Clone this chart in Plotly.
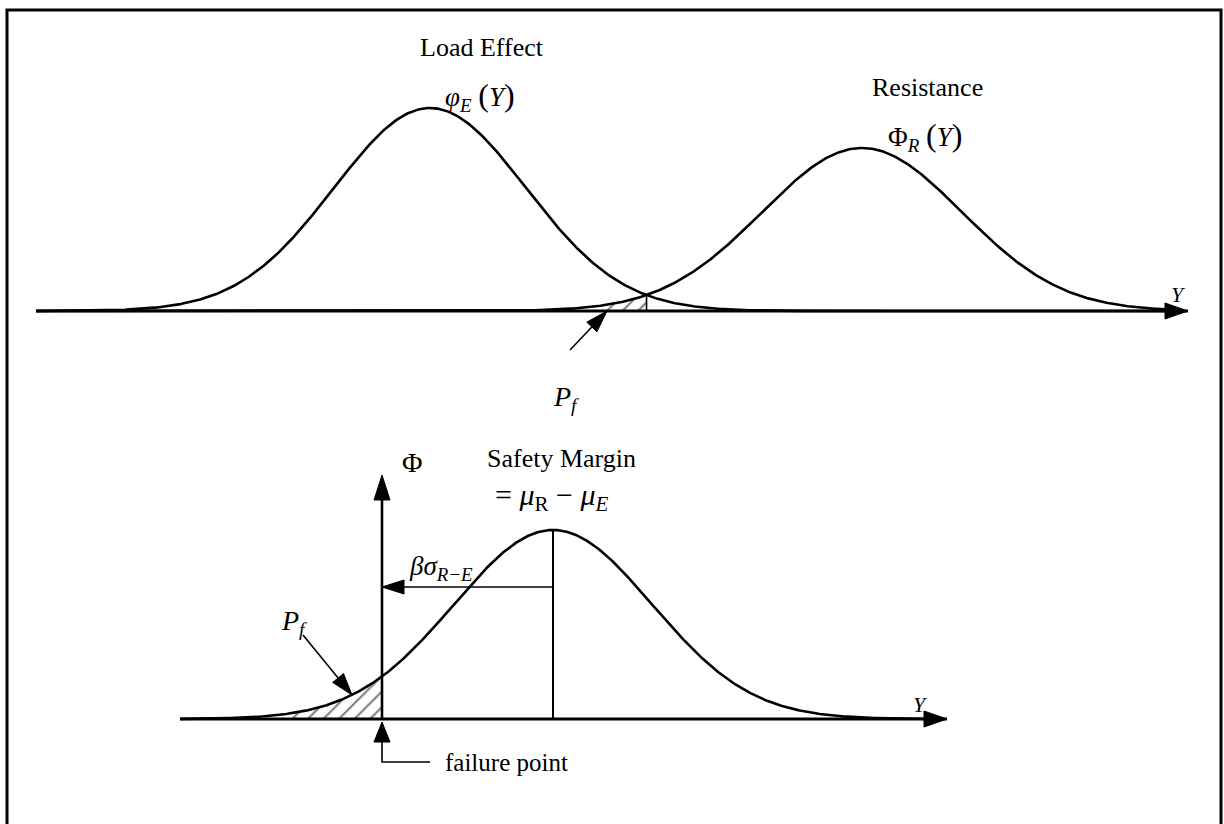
import numpy as np
import plotly.graph_objects as go

W, H = 1224, 824

# Normal curves on the diagram: centre, spread and height above their baseline
curve_names = ["Load Effect", "Resistance", "Safety Margin"]
curve_means = [430, 862, 553]
curve_sds = [96, 100, 99]
curve_heights = [203, 163, 189]
curve_baselines = [311, 311, 719]
curve_spans = [(36, 1166), (36, 1166), (180, 926)]

# Axes of the two panels
top_axis = (36, 1188)          # horizontal Y axis, top panel
bottom_axis = (180, 947)       # horizontal Y axis, bottom panel
phi_axis_x = 382               # vertical Phi axis (failure point)
phi_axis_top = 475

# Where the hatched failure areas begin
top_hatch_start = 600
bottom_hatch_start = 283

# Pointer arrows (tail -> tip) for the P_f labels
pf_top_arrow = ((570, 350), (607, 311))
pf_bottom_arrow = ((303, 635), (352, 695))
beta_arrow_y = 587
failure_leader = (722, 742, 762, 430)   # tip y, head base y, elbow y, end x

FONT = "Liberation Serif"
LW = 2.6


def curve(i, x):
    z = (np.asarray(x, float) - curve_means[i]) / curve_sds[i]
    return curve_baselines[i] - curve_heights[i] * np.exp(-0.5 * z * z)


def head(tip, tail, length, half):
    tip = np.array(tip, float)
    d = tip - np.array(tail, float)
    d /= np.hypot(*d)
    n = np.array([-d[1], d[0]])
    base = tip - d * length
    p1, p2 = base + n * half, base - n * half
    return [tip[0], p1[0], p2[0], tip[0]], [tip[1], p1[1], p2[1], tip[1]]


fig = go.Figure()


def line(xs, ys, width=LW):
    fig.add_trace(go.Scatter(x=list(xs), y=list(ys), mode="lines",
                             line=dict(color="black", width=width),
                             hoverinfo="skip", showlegend=False))


def arrowhead(tip, tail, length=23, half=8):
    hx, hy = head(tip, tail, length, half)
    fig.add_trace(go.Scatter(x=hx, y=hy, mode="lines", fill="toself",
                             fillcolor="black", line=dict(color="black", width=1),
                             hoverinfo="skip", showlegend=False))


def hatch(xs, ys):
    fig.add_trace(go.Scatter(x=list(xs), y=list(ys), mode="lines", fill="toself",
                             fillcolor="white",
                             fillpattern=dict(shape="/", fgcolor="black", bgcolor="white",
                                              size=11, solidity=0.2),
                             line=dict(width=0), hoverinfo="skip", showlegend=False))


def paren(ch, size=32):
    return f'<span style="font-size:{size}px">{ch}</span>'


# ---- top panel: load effect vs resistance ----
grid = np.linspace(curve_means[0], curve_means[1], 2000)
cross_x = grid[np.argmin(np.abs(curve(0, grid) - curve(1, grid)))]
cross_y = float(curve(1, cross_x))

hx = np.linspace(top_hatch_start, cross_x, 60)
hatch(np.r_[hx, cross_x, top_hatch_start],
      np.r_[curve(1, hx), curve_baselines[1], curve_baselines[1]])

line(top_axis, [curve_baselines[0]] * 2, width=3)
for i in (0, 1):
    xs = np.linspace(*curve_spans[i], 800)
    line(xs, curve(i, xs))
line([cross_x, cross_x], [cross_y, curve_baselines[0]], width=1.6)
arrowhead((top_axis[1], curve_baselines[0]), (top_axis[0], curve_baselines[0]), 23, 8)
line(*zip(*pf_top_arrow), width=1.6)
arrowhead(pf_top_arrow[1], pf_top_arrow[0], 22, 7)

# ---- bottom panel: safety margin ----
base = curve_baselines[2]
bx = np.linspace(bottom_hatch_start, phi_axis_x, 60)
hatch(np.r_[bx, phi_axis_x, bottom_hatch_start],
      np.r_[curve(2, bx), base, base])

line(bottom_axis, [base] * 2, width=3)
xs = np.linspace(*curve_spans[2], 800)
line(xs, curve(2, xs))
arrowhead((bottom_axis[1], base), (bottom_axis[0], base), 23, 8)

line([phi_axis_x, phi_axis_x], [base, phi_axis_top + 10])
arrowhead((phi_axis_x, phi_axis_top), (phi_axis_x, base), 25, 8)

mu = curve_means[2]
line([mu, mu], [float(curve(2, mu)), base], width=2)
line([mu, phi_axis_x + 10], [beta_arrow_y] * 2, width=1.6)
arrowhead((phi_axis_x, beta_arrow_y), (mu, beta_arrow_y), 22, 7)

line(*zip(*pf_bottom_arrow), width=1.6)
arrowhead(pf_bottom_arrow[1], pf_bottom_arrow[0], 22, 7)

tip_y, head_base, elbow_y, end_x = failure_leader
arrowhead((phi_axis_x, tip_y), (phi_axis_x, elbow_y), head_base - tip_y, 8)
line([phi_axis_x, phi_axis_x, end_x], [head_base, elbow_y, elbow_y], width=1.6)

# ---- labels ----
labels = [
    (482, 47, "Load Effect", 26, "center"),
    (480, 96, f"<i>φ</i><sub><i>E</i></sub> {paren('(')}<i>Y</i>{paren(')')}", 27, "center"),
    (927, 87, "Resistance", 26, "center"),
    (925, 136, f"Φ<sub><i>R</i></sub> {paren('(')}<i>Y</i>{paren(')')}", 27, "center"),
    (1178, 294, "<i>Y</i>", 22, "center"),
    (566, 398, "<i>P</i><sub><i>f</i></sub>", 28, "center"),
    (412, 462, "Φ", 28, "center"),
    (561, 458, "Safety Margin", 26, "center"),
    (551, 497, "= <i>μ</i><sub>R</sub> − <i>μ</i><sub><i>E</i></sub>", 30, "center"),
    (441, 568, "<i>βσ</i><sub><i>R−E</i></sub>", 27, "center"),
    (294, 622, "<i>P</i><sub><i>f</i></sub>", 28, "center"),
    (920, 704, "<i>Y</i>", 22, "center"),
    (443, 762, "failure point", 25, "left"),
]
for x, y, txt, size, anchor in labels:
    fig.add_annotation(x=x, y=y, text=txt, showarrow=False, xanchor=anchor,
                       yanchor="middle", font=dict(family=FONT, size=size, color="black"))

# frame round the figure
fig.add_shape(type="rect", x0=7, y0=10, x1=1221, y1=H + 10,
              line=dict(color="black", width=3), layer="below")

fig.update_layout(
    width=W, height=H, margin=dict(l=0, r=0, t=0, b=0),
    paper_bgcolor="white", plot_bgcolor="white",
    xaxis=dict(range=[0, W], visible=False, fixedrange=True),
    yaxis=dict(range=[H, 0], visible=False, fixedrange=True),
    showlegend=False,
)

fig.write_html("out.html")
